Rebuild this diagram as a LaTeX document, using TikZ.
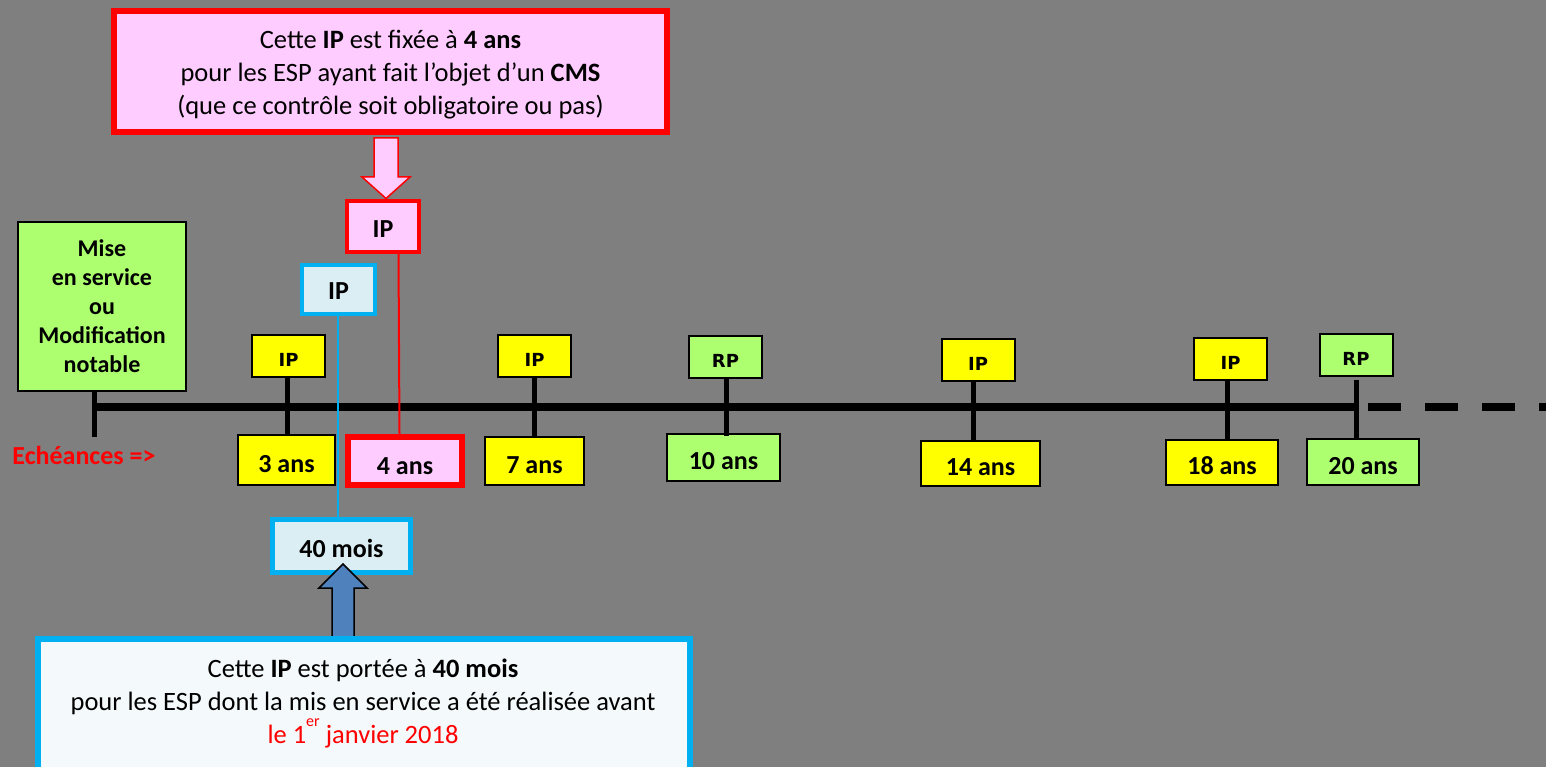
\documentclass[tikz,border=0pt]{standalone}
\usepackage{fontspec}
\setmainfont{Carlito}
\newfontfamily\vfont{DejaVu Sans}
\definecolor{bggray}{HTML}{7F7F7F}
\definecolor{ylw}{HTML}{FFFF00}
\definecolor{grn}{HTML}{ADFF70}
\definecolor{pnk}{HTML}{FFCCFF}
\definecolor{rd}{HTML}{FF0000}
\definecolor{lblue}{HTML}{DAEEF3}
\definecolor{cyanb}{HTML}{00B0F0}
\definecolor{paleb}{HTML}{F4F9FB}
\definecolor{arrowb}{HTML}{4F81BD}
\begin{document}
\begin{tikzpicture}[x=1pt,y=-1pt,
  lab/.style={draw=black,line width=2pt,inner sep=0pt,align=center,
    font=\bfseries\fontsize{26}{31}\selectfont,text height=24pt,text depth=0pt},
  small/.style={draw=black,line width=2pt,inner sep=0pt,
    font=\vfont\bfseries\fontsize{18}{20}\selectfont,text height=21pt,text depth=0pt,
    minimum width=73pt,minimum height=42pt},
  tick/.style={line width=5pt},
  axis/.style={line width=8pt},
  thinred/.style={rd,line width=2pt},
  thinblue/.style={cyanb,line width=2pt},
  bigtext/.style={align=center,inner sep=0pt,font=\fontsize{26.5}{33}\selectfont}
]
\fill[bggray] (0,0) rectangle (1546,767);
\useasboundingbox (0,0) rectangle (1546,767);
\clip (0,0) rectangle (1546,767);

% timeline coordinates
\coordinate (t0) at (94,406.5);
\coordinate (t0b) at (94,437);
\coordinate (t3) at (287,406.5);
\coordinate (t7) at (534,406.5);
\coordinate (t10) at (726,406.5);
\coordinate (t14) at (973,406.5);
\coordinate (t18) at (1227,406.5);
\coordinate (t20) at (1356,406.5);
\coordinate (dstart) at (1368,406.5);
\coordinate (dend) at (1546,406.5);

% left green box
\node[draw=black,line width=2pt,fill=grn,inner sep=0pt,minimum width=168pt,minimum height=169pt,
  align=center,font=\bfseries\fontsize{24}{29}\selectfont] (start) at (102,306.5)
  {Mise\\en service\\ou\\Modification\\notable};

% upper labels
\node[small,fill=ylw] (ip3) at (288.5,356) {IP};
\node[small,fill=ylw] (ip7) at (534.5,356) {IP};
\node[small,fill=grn] (rp10) at (725.5,357) {RP};
\node[small,fill=ylw] (ip14) at (978,360) {IP};
\node[small,fill=ylw] (ip18) at (1230.5,359) {IP};
\node[small,fill=grn] (rp20) at (1356,355) {RP};

% lower labels
\node[lab,fill=ylw,minimum width=97pt,minimum height=50pt] (l3) at (286.5,460) {3 ans};
\node[lab,fill=ylw,minimum width=99pt,minimum height=48pt] (l7) at (534.5,461) {7 ans};
\node[lab,fill=grn,minimum width=113pt,minimum height=47pt] (l10) at (723.5,457.5) {10 ans};
\node[lab,fill=ylw,minimum width=119pt,minimum height=45pt] (l14) at (980.5,463.5) {14 ans};
\node[lab,fill=ylw,minimum width=112pt,minimum height=45pt] (l18) at (1222,462.5) {18 ans};
\node[lab,fill=grn,minimum width=112pt,minimum height=46pt] (l20) at (1363,462) {20 ans};
\node[lab,draw=rd,line width=6pt,fill=pnk,minimum width=114pt,minimum height=48pt,text height=27pt] (four) at (405,461) {4 ans};

% axis and ticks
\draw[axis] (t0) -- (t20);
\draw[axis,dash pattern=on 33pt off 24pt] (dstart) -- (dend);
\draw[tick] (t0 |- start.south) -- (t0b);
\draw[tick] (t3 |- ip3.south) -- (t3 |- l3.north);
\draw[tick] (t7 |- ip7.south) -- (t7 |- l7.north);
\draw[tick] (t10 |- rp10.south) -- ([yshift=-3pt]t10 |- l10.north);
\draw[tick] (t14 |- ip14.south) -- (t14 |- l14.north);
\draw[tick] (t18 |- ip18.south) -- (t18 |- l18.north);
\draw[tick] ([yshift=-3pt]t20 |- rp20.south) -- (t20 |- l20.north);

% Echeances
\node[text=rd,inner sep=0pt,font=\bfseries\fontsize{26}{31}\selectfont] (ech) at (84,455) {Echéances =>};

% IP boxes above
\node[draw=rd,line width=4pt,fill=pnk,inner sep=0pt,minimum width=72pt,minimum height=51pt,
  font=\bfseries\fontsize{26}{31}\selectfont,text height=21pt,text depth=0pt] (ipred) at (383,226.5) {IP};
\node[draw=cyanb,line width=4pt,fill=lblue,inner sep=0pt,minimum width=73pt,minimum height=49pt,
  font=\bfseries\fontsize{26}{31}\selectfont,text height=19pt,text depth=0pt] (ipblue) at (338.5,289.5) {IP};
\node[draw=cyanb,line width=5pt,fill=lblue,inner sep=0pt,minimum width=138pt,minimum height=53pt,
  font=\bfseries\fontsize{26}{31}\selectfont,text height=22pt,text depth=0pt] (mois) at (341.5,546) {40 mois};

% thin connectors
\draw[thinred] ([xshift=15.5pt]ipred.south) -- ([xshift=-5.5pt]four.north);
\draw[thinblue] ([xshift=-1pt]ipblue.south) -- ([xshift=-4pt]mois.north);

% top box
\node[draw=rd,line width=6pt,fill=pnk,minimum width=553pt,minimum height=121pt,inner sep=0pt] (topbox) at (390.5,71.5) {};
\node[bigtext] (toptext) at (390.5,75)
  {Cette \textbf{IP} est fixée à \textbf{4 ans}\\pour les ESP ayant fait l’objet d’un \textbf{CMS}\\(que ce contrôle soit obligatoire ou pas)};

% pink block arrow
\draw[rd,line width=1.5pt,fill=pnk,line join=miter] (374,138) -- (398,138) -- (398,177) -- (410,177) -- (386,198.5) -- (362,177) -- (374,177) -- cycle;

% blue block arrow
\draw[black,line width=1.5pt,fill=arrowb,line join=miter] (332,645) -- (332,588) -- (319,588) -- (343,564) -- (367,588) -- (354,588) -- (354,645);

% bottom box
\node[draw=cyanb,line width=6pt,fill=paleb,minimum width=652pt,minimum height=170pt,inner sep=0pt] (botbox) at (364,724) {};
\node[bigtext] (bottext) at (363,703)
  {Cette \textbf{IP} est portée à \textbf{40 mois}\\pour les ESP dont la mis en service a été réalisée avant\\
   \textcolor{rd}{le 1\raisebox{17pt}[0pt][0pt]{\fontsize{16}{16}\selectfont er}\ janvier 2018}};
\end{tikzpicture}
\end{document}
